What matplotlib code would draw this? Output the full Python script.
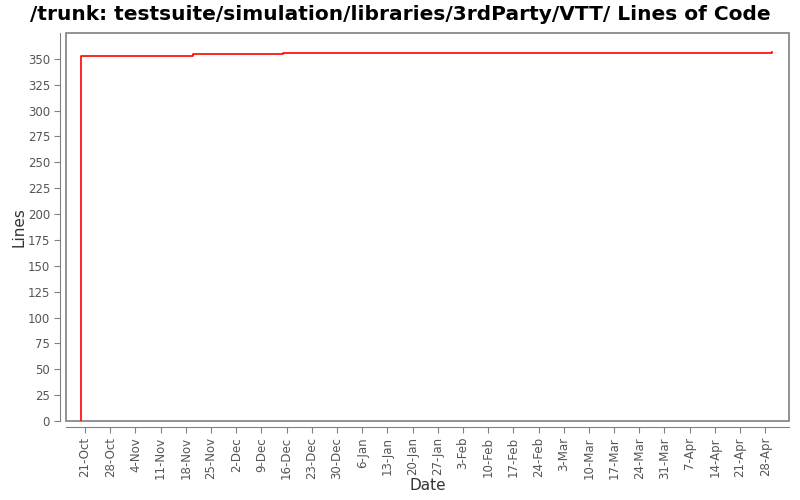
import numpy as np
import pandas as pd
import matplotlib
matplotlib.use('Agg')
import matplotlib.pyplot as plt
import matplotlib.dates as mdates
from matplotlib.patches import Rectangle

# Data
dates = pd.to_datetime(['2009-10-20', '2009-10-20', '2009-11-20',
                        '2009-12-15', '2010-04-29', '2010-04-30'])
lines = [0, 353, 355, 356, 356, 357]

tick_dates = pd.date_range('2009-10-21', '2010-04-28', freq='7D')
tick_labels = [d.strftime('%-d-%b') for d in tick_dates]

TITLE = '/trunk: testsuite/simulation/libraries/3rdParty/VTT/ Lines of Code'

fig = plt.figure(figsize=(8, 5), dpi=100)
W, H = 800, 500
left, right, top, bottom = 66, 789, 33, 421
ax = fig.add_axes([left / W, 1 - bottom / H, (right - left) / W, (bottom - top) / H])

ax.plot(dates, lines, color='red', lw=1.2, drawstyle='steps-post')

x0 = mdates.date2num(pd.Timestamp('2009-10-21'))
ax.set_xlim(x0 - 5.3, x0 + 195.6)
ax.set_ylim(0, 375)

ax.set_xticks(mdates.date2num(tick_dates))
ax.set_xticklabels(tick_labels)
ax.set_yticks(np.arange(0, 351, 25))

gray = '#808080'
for s in ['top', 'right']:
    ax.spines[s].set_visible(False)
for s in ['left', 'bottom']:
    ax.spines[s].set_position(('outward', 4))
    ax.spines[s].set_color(gray)
ax.add_patch(Rectangle((0, 0), 1, 1, transform=ax.transAxes, fill=False,
                       edgecolor=gray, lw=1.2, clip_on=False))
ax.tick_params(colors=gray, labelcolor='#555555', labelsize=8.5, length=4)
ax.tick_params(axis='x', labelrotation=90)

ax.set_xlabel('Date', fontsize=11, color='#333333', labelpad=-1)
ax.set_ylabel('Lines', fontsize=11, color='#333333', labelpad=1)
fig.suptitle(TITLE, fontsize=14.5, fontweight='bold', y=0.99)

fig.savefig('out.png', dpi=100)
